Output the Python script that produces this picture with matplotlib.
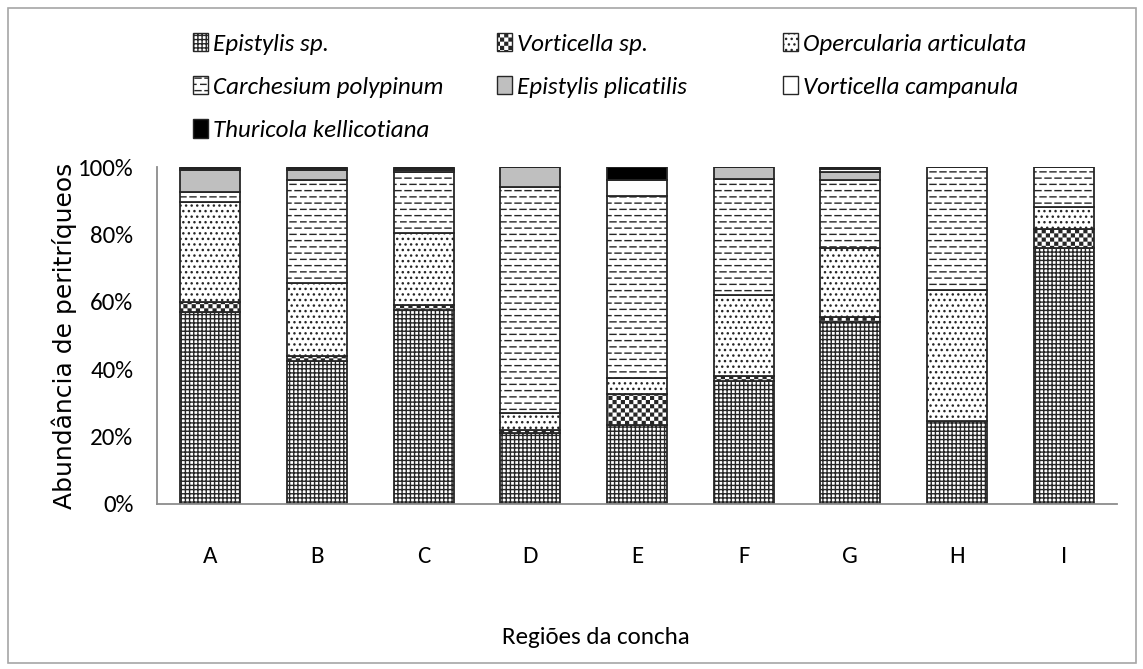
import matplotlib
matplotlib.use("Agg")
import matplotlib as mpl
import matplotlib.pyplot as plt
import matplotlib.patches as mpatches
import matplotlib.hatch as mhatch
from matplotlib.path import Path
from matplotlib.ticker import FuncFormatter
from matplotlib import font_manager
import numpy as np

# ---------------- data (percent of peritrichs per shell region) ----------------
categories = ["A", "B", "C", "D", "E", "F", "G", "H", "I"]
epistylis_sp = [57, 42.5, 57.5, 21, 23.5, 36.5, 54, 24.5, 76]
vorticella_sp = [3, 1.5, 1.5, 1, 9, 1.5, 1.5, 0, 5.5]
opercularia_articulata = [29.5, 21.5, 21.5, 5, 5, 24, 20.5, 39, 6.5]
carchesium_polypinum = [3, 30.5, 18, 67, 54, 34.5, 20, 36.5, 12]
epistylis_plicatilis = [6.5, 3, 0.5, 6, 0, 3.5, 2.5, 0, 0]
vorticella_campanula = [0.5, 0.5, 0.5, 0, 4.5, 0, 1, 0, 0]
thuricola_kellicotiana = [0.5, 0.5, 0.5, 0, 4, 0, 0.5, 0, 0]

series_names = ["Epistylis sp.", "Vorticella sp.", "Opercularia articulata",
                "Carchesium polypinum", "Epistylis plicatilis",
                "Vorticella campanula", "Thuricola kellicotiana"]
series_values = [epistylis_sp, vorticella_sp, opercularia_articulata,
                 carchesium_polypinum, epistylis_plicatilis,
                 vorticella_campanula, thuricola_kellicotiana]
yticks = [0, 20, 40, 60, 80, 100]

# ---------------- custom hatch patterns (checkerboard and dashes) ----------------
mpl.rcParams['hatch.linewidth'] = 1.0
mpl.rcParams['hatch.color'] = 'black'


class CheckerHatch(mhatch.HatchPatternBase):
    """Filled checkerboard, triggered by '*'."""
    def __init__(self, hatch, density):
        k = hatch.count('*')
        self.n = 2 * int(k * density) if k else 0
        self.cells = [(i, j) for i in range(self.n) for j in range(self.n)
                      if (i + j) % 2 == 0] if self.n else []
        self.num_vertices = 5 * len(self.cells)

    def set_vertices_and_codes(self, vertices, codes):
        s = 1.0 / self.n
        inset = mpl.rcParams['hatch.linewidth'] / 72.0 / 2.0
        for m, (i, j) in enumerate(self.cells):
            x0, y0 = i * s + inset, j * s + inset
            x1, y1 = (i + 1) * s - inset, (j + 1) * s - inset
            vertices[5 * m:5 * m + 5] = [(x0, y0), (x1, y0), (x1, y1), (x0, y1), (x0, y0)]
            codes[5 * m:5 * m + 5] = [Path.MOVETO, Path.LINETO, Path.LINETO,
                                      Path.LINETO, Path.CLOSEPOLY]


class DashHatch(mhatch.HatchPatternBase):
    """Staggered short horizontal dashes, triggered by 'O'."""
    def __init__(self, hatch, density):
        k = hatch.count('O')
        self.rows = 8 * k
        self.cols = 10
        self.num_vertices = 2 * self.rows * (self.cols + 1) if k else 0

    def set_vertices_and_codes(self, vertices, codes):
        m = 0
        for r in range(self.rows):
            y = (r + 0.5) / self.rows
            off = 0.5 if r % 2 else 0.0
            for c in range(-1, self.cols):
                x0 = (c + off) / self.cols
                x1 = x0 + 0.6 / self.cols
                vertices[m:m + 2] = [(x0, y), (x1, y)]
                codes[m:m + 2] = [Path.MOVETO, Path.LINETO]
                m += 2


types = mhatch._hatch_types
types[:] = [t for t in types if t not in (mhatch.Stars, mhatch.LargeCircles)]
types.extend([CheckerHatch, DashHatch])

hatches = ['++++', '**', '...', 'OO', '', '', '']
faces = ['white', 'white', 'white', 'white', '#bfbfbf', 'white', 'black']

# pick the narrowest installed sans family
installed = {f.name for f in font_manager.fontManager.ttflist}
narrow_font = 'Lato'
for cand in ['Liberation Sans Narrow', 'Carlito', 'Roboto Condensed', 'Lato']:
    if cand in installed:
        narrow_font = cand
        break
narrow = [narrow_font, 'DejaVu Sans']
is_condensed = narrow_font in ('Liberation Sans Narrow', 'Carlito', 'Roboto Condensed')
fs = 17 if is_condensed else 16

# ---------------- figure ----------------
W, H = 1143, 669
fig = plt.figure(figsize=(W / 100, H / 100), dpi=100)
ax = fig.add_axes([157 / W, 1 - 504 / H, (1117 - 157) / W, (504 - 167) / H])

x = np.arange(len(categories))
bottom = np.zeros(len(categories))
handles = []
for name, vals, h, fc in zip(series_names, series_values, hatches, faces):
    vals = np.asarray(vals, dtype=float)
    ax.bar(x, vals, width=0.56, bottom=bottom, facecolor=fc, hatch=h,
           edgecolor='#262626', linewidth=1.3, zorder=2)
    bottom += vals
    handles.append(mpatches.Patch(facecolor=fc, hatch=h, edgecolor='#262626',
                                  linewidth=1.0, label=name))

ax.set_xlim(-0.5, len(categories) - 0.5)
ax.set_ylim(0, 100)
ax.set_xticks(x)
ax.set_xticklabels(categories, family=narrow, fontsize=fs + 1)
ax.set_yticks(yticks)
ax.yaxis.set_major_formatter(FuncFormatter(lambda v, p: f"{v:.0f}%"))
for lab in ax.get_yticklabels():
    lab.set_family(narrow)
    lab.set_fontsize(fs + 1)
ax.tick_params(axis='both', length=0)
ax.tick_params(axis='y', pad=17)
ax.tick_params(axis='x', pad=30)
for s in ['top', 'right']:
    ax.spines[s].set_visible(False)
for s in ['left', 'bottom']:
    ax.spines[s].set_color('#8c8c8c')
    ax.spines[s].set_linewidth(1.3)

ax.set_ylabel("Abundância de peritríqueos", family='DejaVu Sans', fontsize=18)
ax.yaxis.set_label_coords(-0.083, 0.5)
fig.text(596 / W, 1 - 638 / H, "Regiões da concha", family=narrow, fontsize=fs + 1,
         ha='center', va='center')

# legend: three columns laid out row-wise like the original
col_members = [[0, 3, 6], [1, 4], [2, 5]]
col_x = [193, 497, 783]
for members, cx in zip(col_members, col_x):
    fig.legend(handles=[handles[i] for i in members], loc='upper left',
               bbox_to_anchor=(cx / W, 1 - 33 / H), frameon=False,
               borderpad=0, borderaxespad=0, handlelength=0.6,
               handleheight=0.75, handletextpad=0.2, labelspacing=0.85,
               prop={'family': narrow, 'style': 'italic', 'size': fs + 1})

# outer frame
fig.patches.append(mpatches.Rectangle((8 / W, 6 / H), (1136 - 8) / W, (661 - 6) / H,
                                      transform=fig.transFigure, fill=False,
                                      edgecolor='#a6a6a6', linewidth=1.2))

fig.savefig("out.png", dpi=100)
